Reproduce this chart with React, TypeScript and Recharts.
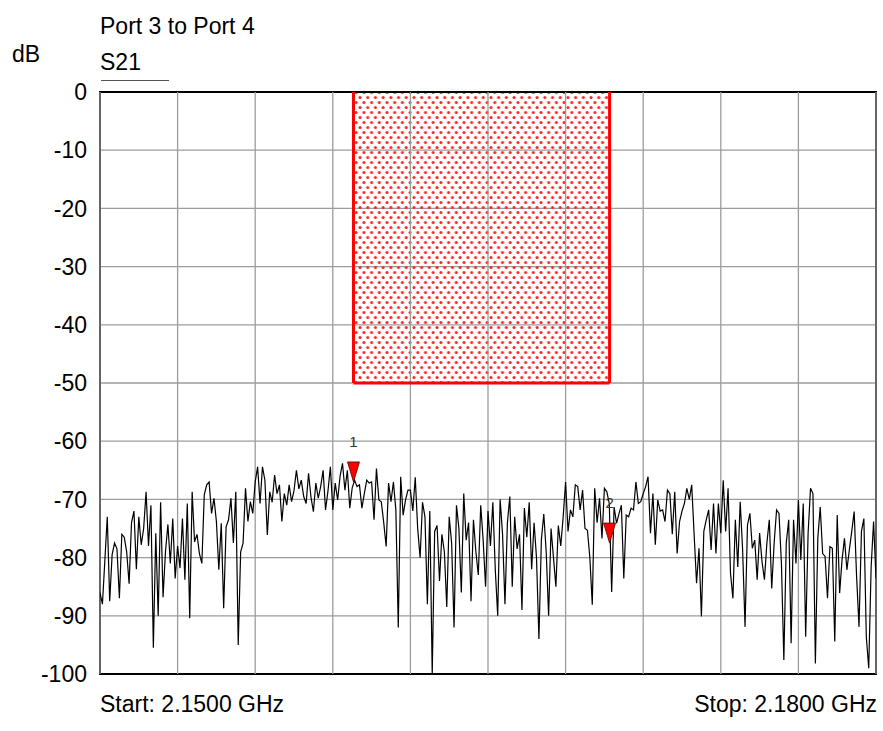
import React from "react";
import {
  ComposedChart,
  Line,
  XAxis,
  YAxis,
  CartesianGrid,
  ReferenceArea,
  ReferenceLine,
  ReferenceDot,
} from "recharts";

// sweep 2.15 - 2.18 GHz, 321 points
const START_GHZ = 2.15;
const STOP_GHZ = 2.18;

const traceDb = [
  -86, -88, -80.5, -73, -87.5, -79.5, -77.5, -78.5, -87, -76, -76.5, -79, -84.5, -74, -72, -82,
  -73, -77.8, -75, -68.7, -78, -71, -95.5, -75.8, -90, -70.5, -86.8, -79, -74.3, -81, -73.3, -83.6,
  -78, -81.8, -73.3, -83.8, -70.7, -90.4, -68.7, -77.3, -76, -79.3, -81, -69.2, -67.5, -67, -72.4, -69.8,
  -73.8, -82.1, -74.1, -88.7, -74.7, -73.5, -69.8, -77.5, -68.7, -95, -79, -77.5, -68.1, -73.8, -70.4, -72.4,
  -67, -64.4, -70.7, -64.4, -66.7, -76.1, -68.7, -70.5, -65.8, -69, -67.5, -73.8, -69, -71, -67.5, -70.4,
  -68.5, -65, -68.2, -66.7, -69.5, -70.7, -65.5, -69.6, -72.1, -67.2, -69.8, -67.8, -65, -71.8, -68.6, -64.4,
  -71.8, -67.2, -70.1, -66, -63.8, -68.4, -65, -71.5, -68, -66.7, -67.8, -67.5, -71.5, -69, -66.7, -67.2,
  -67, -73.5, -64.7, -70.1, -70.4, -74, -78.1, -67.2, -70.4, -67, -71.8, -92, -66.1, -72.7, -70.1, -68.4,
  -68.4, -72, -66.2, -75, -80, -70.5, -73, -88, -72, -100, -75.5, -74.5, -84, -76, -79, -88.5,
  -73, -77.5, -92, -71, -75, -86, -69, -77, -74, -87.5, -73.5, -79, -83, -71, -77, -85,
  -72, -78, -70.5, -82, -90, -70, -76, -88, -74, -69.5, -85, -73, -78.5, -76, -89, -71.5,
  -76.5, -70.5, -82, -74, -80, -94, -77, -72.5, -79, -90, -75, -80, -85, -74.5, -78, -73,
  -67, -75.5, -71.8, -73, -67.5, -67.8, -71.8, -68.4, -75, -75.3, -80, -88.1, -68.1, -74, -69.8, -76.7,
  -68.1, -68.7, -70.7, -85.9, -71.3, -74.1, -72.5, -71, -83.6, -72.7, -73, -71.5, -71.8, -67, -70.7, -70.4,
  -69, -67.8, -66.1, -75.8, -69, -77.8, -70.1, -72, -71.8, -73.8, -68.4, -69, -76, -68.7, -79.3, -73.8,
  -72, -70.7, -68.1, -70, -67.5, -76, -84.4, -78.4, -90.1, -75.5, -73.5, -71.8, -78.7, -70.7, -79.3, -70.7,
  -75.8, -66.7, -75.5, -68.1, -82.7, -87, -73.5, -81.6, -70.4, -78.7, -91.9, -74.4, -72.4, -78.4, -77, -83.8,
  -75.8, -80.7, -83.8, -77.5, -73.5, -85.3, -77.5, -71.8, -72.4, -81, -97.6, -77.5, -73.5, -94.7, -73.5, -81,
  -70.1, -80.4, -70.7, -93.6, -75.8, -68.1, -69, -98.2, -76.7, -71.3, -79.3, -79.8, -87, -78.1, -78.4, -94.4,
  -72.7, -86.1, -80.4, -76.7, -82.1, -78.7, -75.5, -72.1, -83.3, -91.9, -75.5, -73.3, -93.6, -99, -81.6, -73.8,
  -83.6,
];

const xTicks = [2.15, 2.153, 2.156, 2.159, 2.162, 2.165, 2.168, 2.171, 2.174, 2.177, 2.18];
const yTicks = [0, -10, -20, -30, -40, -50, -60, -70, -80, -90, -100];

// limit mask (GHz / dB)
const limitStart = 2.1598;
const limitStop = 2.1697;
const limitTop = 0;
const limitBottom = -50;

const markers = [
  { name: "1", f: 2.1598, db: -67 },
  { name: "2", f: 2.1697, db: -77.5 },
];

const step = (STOP_GHZ - START_GHZ) / (traceDb.length - 1);
const traceData = traceDb.map((db, i) => ({ f: START_GHZ + i * step, db }));

const FONT = "'Liberation Sans', Arial, sans-serif";
const GRID = "#9c9c9c";

const MarkerShape = (props: any) => {
  const { cx, cy, name } = props;
  return (
    <g>
      <polygon
        points={`${cx - 6},${cy - 20} ${cx + 6},${cy - 20} ${cx},${cy}`}
        fill="#ff0000"
        stroke="#5a0000"
        strokeWidth={0.8}
      />
      <text x={cx} y={cy - 35} textAnchor="middle" fontSize={15} fill="#333" fontFamily={FONT}>
        {name}
      </text>
    </g>
  );
};

export default function App() {
  const txt: React.CSSProperties = {
    position: "absolute",
    fontSize: 23,
    lineHeight: "23px",
    color: "#000",
    whiteSpace: "nowrap",
  };
  return (
    <div
      style={{
        position: "absolute",
        left: 0,
        top: 0,
        width: 883,
        height: 731,
        background: "#fff",
        fontFamily: FONT,
      }}
    >
      <div style={{ ...txt, left: 100, top: 15 }}>Port 3 to Port 4</div>
      <div style={{ ...txt, left: 12, top: 43 }}>dB</div>
      <div style={{ ...txt, left: 100, top: 51 }}>S21</div>
      <div style={{ position: "absolute", left: 101, top: 80, width: 68, height: 1, background: "#555" }} />
      <div style={{ ...txt, left: 100, top: 693 }}>Start: 2.1500 GHz</div>
      <div style={{ ...txt, right: 6, top: 693 }}>Stop: 2.1800 GHz</div>

      <ComposedChart
        width={883}
        height={731}
        data={traceData}
        margin={{ top: 92, right: 7, bottom: 57, left: 0 }}
      >
        <defs>
          <pattern id="limitDots" width="7.7" height="10" patternUnits="userSpaceOnUse">
            <circle cx="2" cy="2.5" r="1.5" fill="#ff2020" />
            <circle cx="5.85" cy="7.5" r="1.5" fill="#ff2020" />
          </pattern>
        </defs>
        <CartesianGrid stroke={GRID} strokeWidth={1.3} vertical={false} />
        <XAxis
          type="number"
          dataKey="f"
          domain={[START_GHZ, STOP_GHZ]}
          ticks={xTicks}
          allowDataOverflow
          tick={false}
          tickLine={false}
          axisLine={false}
          height={0}
        />
        <YAxis
          type="number"
          domain={[-100, 0]}
          ticks={yTicks}
          width={100}
          tickSize={0}
          tickMargin={13}
          tickLine={false}
          axisLine={false}
          tick={{ fill: "#000", fontSize: 23 }}
          allowDataOverflow
        />
        {xTicks.map((t) => (
          <ReferenceLine key={`v${t}`} x={t} stroke={GRID} strokeWidth={1.3} />
        ))}
        <ReferenceArea
          x1={limitStart}
          x2={limitStop}
          y1={limitBottom}
          y2={limitTop}
          fill="url(#limitDots)"
          fillOpacity={1}
          stroke="none"
        />
        <ReferenceLine
          segment={[{ x: limitStart, y: limitTop }, { x: limitStart, y: limitBottom }]}
          stroke="#ff0000"
          strokeWidth={3}
        />
        <ReferenceLine
          segment={[{ x: limitStop, y: limitTop }, { x: limitStop, y: limitBottom }]}
          stroke="#ff0000"
          strokeWidth={3}
        />
        <ReferenceLine
          segment={[{ x: limitStart, y: limitBottom }, { x: limitStop, y: limitBottom }]}
          stroke="#ff0000"
          strokeWidth={3}
        />
        <Line
          type="linear"
          dataKey="db"
          stroke="#000"
          strokeWidth={1.2}
          dot={false}
          isAnimationActive={false}
        />
        <ReferenceArea
          x1={START_GHZ}
          x2={STOP_GHZ}
          y1={-100}
          y2={0}
          fill="none"
          stroke="#000"
          strokeWidth={2}
        />
        {markers.map((m) => (
          <ReferenceDot
            key={m.name}
            x={m.f}
            y={m.db}
            r={6}
            shape={(p: any) => <MarkerShape {...p} name={m.name} />}
          />
        ))}
      </ComposedChart>
    </div>
  );
}
